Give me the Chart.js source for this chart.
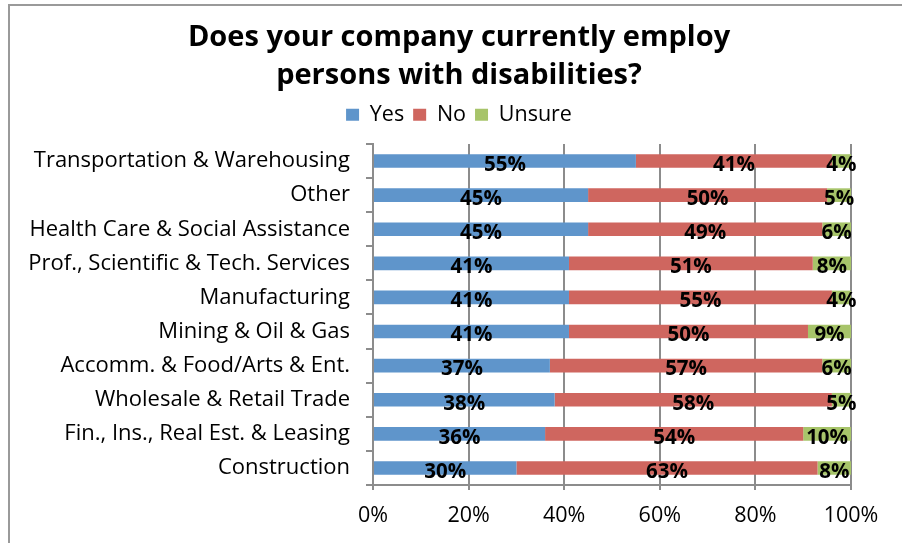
<!DOCTYPE html>
<html>
<head>
<meta charset="utf-8">
<script src="https://cdn.jsdelivr.net/npm/chart.js@4/dist/chart.umd.min.js"></script>
<style>
  html, body { margin: 0; padding: 0; background: #fff; }
  #wrap { width: 902px; height: 543px; position: relative; }
</style>
</head>
<body>
<div id="wrap"><canvas id="chart" width="902" height="543"></canvas></div>
<script>
// Industries, top to bottom
const industries = [
  'Transportation & Warehousing',
  'Other',
  'Health Care & Social Assistance',
  'Prof., Scientific & Tech. Services',
  'Manufacturing',
  'Mining & Oil & Gas',
  'Accomm. & Food/Arts & Ent.',
  'Wholesale & Retail Trade',
  'Fin., Ins., Real Est. & Leasing',
  'Construction'
];

// Share of companies per answer (%)
const yesValues    = [55, 45, 45, 41, 41, 41, 37, 38, 36, 30];
const noValues     = [41, 50, 49, 51, 55, 50, 57, 58, 54, 63];
const unsureValues = [ 4,  5,  6,  8,  4,  9,  6,  5, 10,  8];

const seriesNames = ['Yes', 'No', 'Unsure'];
const xTickValues = [0, 20, 40, 60, 80, 100];

const FONT = '"Open Sans", "Noto Sans", sans-serif';
const GRID = '#8c8c8c';

// Outer frame of the chart
const framePlugin = {
  id: 'frame',
  beforeDraw(chart) {
    const { ctx, width, height } = chart;
    ctx.save();
    ctx.fillStyle = '#fff';
    ctx.fillRect(0, 0, width, height);
    ctx.strokeStyle = '#9a9a9a';
    ctx.lineWidth = 2;
    ctx.beginPath();
    ctx.moveTo(9, height + 2);
    ctx.lineTo(9, 5);
    ctx.lineTo(width + 2, 5);
    ctx.stroke();
    ctx.restore();
  }
};

// Percent labels centred on each bar segment
const segmentLabels = {
  id: 'segmentLabels',
  afterDatasetsDraw(chart) {
    const { ctx, chartArea } = chart;
    ctx.save();
    ctx.font = 'bold 20.5px ' + FONT;
    ctx.fillStyle = '#000';
    ctx.textAlign = 'center';
    ctx.textBaseline = 'middle';
    chart.data.datasets.forEach((ds, i) => {
      const meta = chart.getDatasetMeta(i);
      meta.data.forEach((bar, j) => {
        const right = Math.min(bar.x, chartArea.right);
        const cx = (bar.base + right) / 2;
        ctx.fillText(ds.data[j] + '%', cx, bar.y + 4);
      });
    });
    ctx.restore();
  }
};

new Chart(document.getElementById('chart'), {
  type: 'bar',
  data: {
    labels: industries,
    datasets: [
      { label: seriesNames[0], data: yesValues,    backgroundColor: '#5f95cb' },
      { label: seriesNames[1], data: noValues,     backgroundColor: '#cf665f' },
      { label: seriesNames[2], data: unsureValues, backgroundColor: '#a7c46a' }
    ]
  },
  options: {
    indexAxis: 'y',
    responsive: false,
    animation: false,
    layout: { padding: { left: 16, right: 0, top: 0, bottom: 0 } },
    datasets: {
      bar: { barPercentage: 0.4, categoryPercentage: 1, borderWidth: 0 }
    },
    scales: {
      x: {
        stacked: true,
        min: 0,
        max: 100,
        afterBuildTicks(scale) {
          scale.ticks = xTickValues.map(v => ({ value: v }));
        },
        afterFit(scale) { scale.height = 58; },
        ticks: {
          color: '#000',
          font: { family: FONT, size: 21.5 },
          padding: 13,
          callback: v => v + '%'
        },
        grid: { color: GRID, lineWidth: 2, tickLength: 5, drawTicks: true },
        border: { color: GRID, width: 2 }
      },
      // thin empty strip between the legend and the plot
      xTop: {
        type: 'linear',
        position: 'top',
        afterFit(scale) { scale.height = 8.5; },
        ticks: { display: false },
        grid: { display: false },
        border: { display: false }
      },
      y: {
        stacked: true,
        afterFit(scale) { scale.width = 357; },
        ticks: {
          color: '#000',
          font: { family: FONT, size: 22 },
          padding: 16
        },
        grid: { color: GRID, lineWidth: 2, drawOnChartArea: false, tickLength: 7, offset: true },
        border: { color: GRID, width: 2 }
      },
      // empty strip on the right that keeps the plot clear of the frame edge
      yRight: {
        type: 'category',
        position: 'right',
        afterFit(scale) { scale.width = 51; },
        ticks: { display: false },
        grid: { display: false },
        border: { display: false }
      }
    },
    plugins: {
      title: {
        display: true,
        text: ['Does your company currently employ', 'persons with disabilities?'],
        color: '#000',
        font: { family: FONT, size: 29, weight: 'bold', lineHeight: 1.31 },
        padding: { top: 19, bottom: 0 }
      },
      legend: {
        position: 'top',
        labels: {
          color: '#000',
          font: { family: FONT, size: 21.5 },
          boxWidth: 13,
          boxHeight: 12,
          padding: 9
        }
      },
      tooltip: { enabled: false }
    }
  },
  plugins: [framePlugin, segmentLabels]
});
</script>
</body>
</html>
